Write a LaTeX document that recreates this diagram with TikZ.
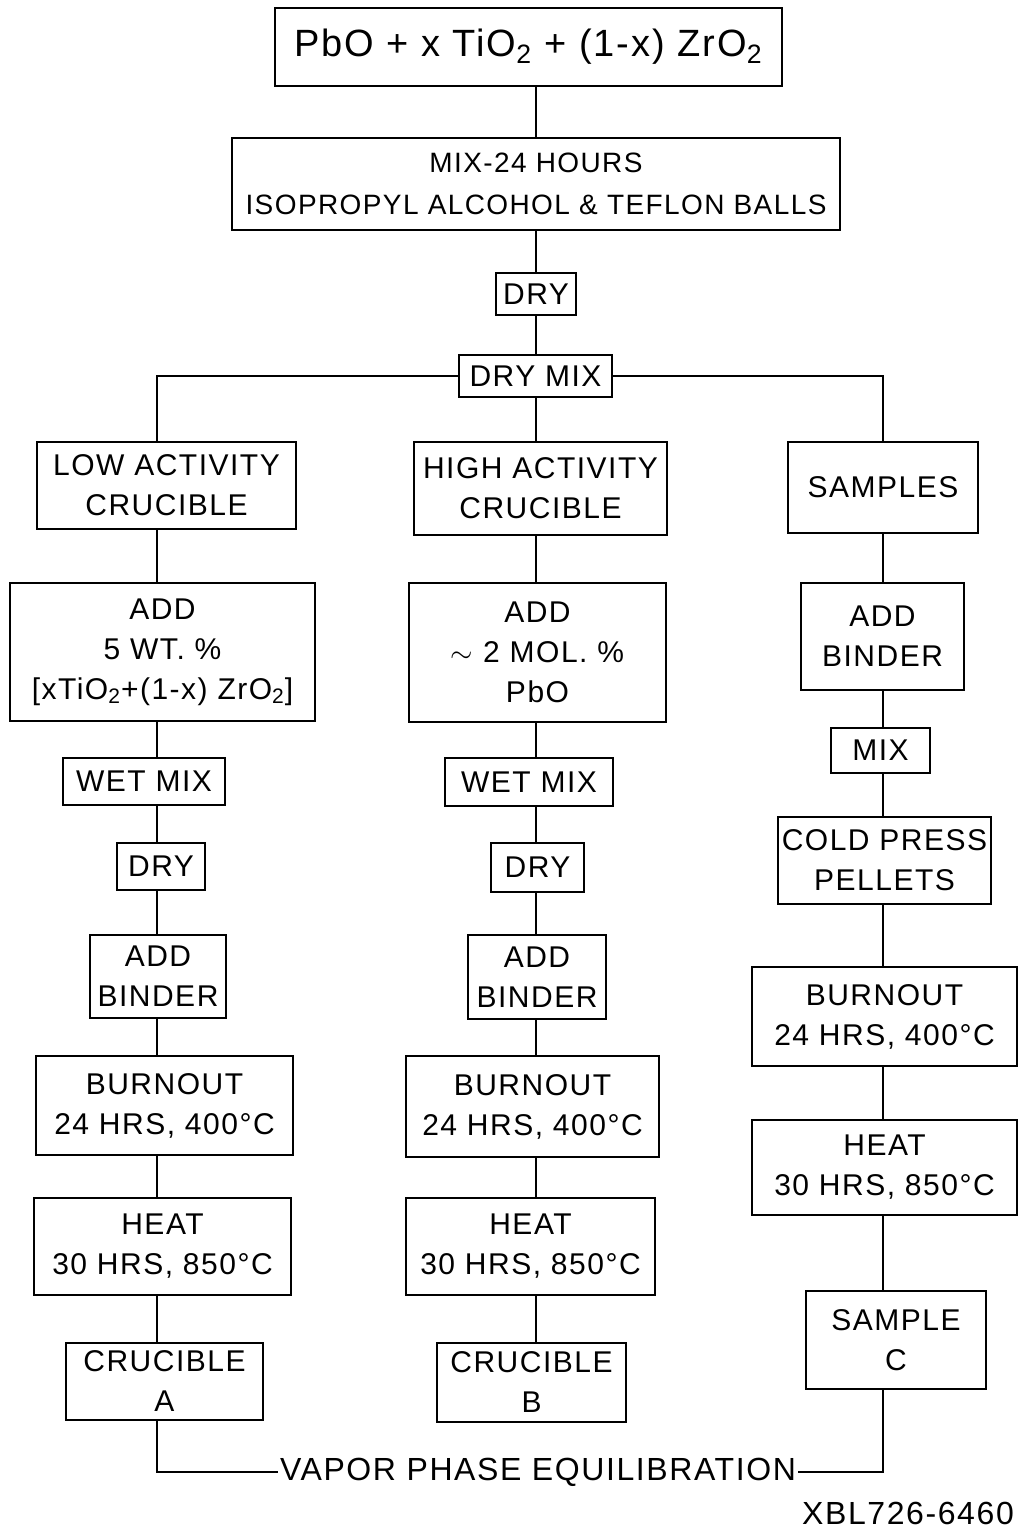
\documentclass[tikz,border=0pt]{standalone}
\usepackage{fontspec}
\setmainfont[LetterSpace=5]{Liberation Sans}
\usetikzlibrary{positioning}
\tikzset{
  box/.style={draw, line width=1.4pt, align=center, inner sep=1pt,
    font=\fontsize{15}{20}\selectfont},
  link/.style={line width=1.4pt},
}

\begin{document}
\begin{tikzpicture}[x=0.5pt, y=-0.5pt]
  \useasboundingbox (0,0) rectangle (1020,1535);
  \coordinate (colA) at (157,0);
  \coordinate (colB) at (536,0);
  \coordinate (colC) at (883,0);
  % Common start
  \node[box, font=\fontsize{19}{24}\selectfont, minimum width=253.5pt, minimum height=39pt] (start) at (528.5,47)
    {PbO + x TiO\textsubscript{2} + (1-x) ZrO\textsubscript{2}};
  \node[box, font=\fontsize{14}{21}\selectfont, minimum width=304pt, minimum height=46pt] (mix) at (536,184)
    {MIX-24 HOURS\\ISOPROPYL ALCOHOL \& TEFLON BALLS};
  \node[box, minimum width=40pt, minimum height=21pt] (dry) at (536,294) {DRY};
  \node[box, minimum width=76.5pt, minimum height=21pt] (dmix) at (535.5,376) {DRY MIX};
  % Low activity crucible (left)
  \node[box, minimum width=129.5pt, minimum height=43.5pt] (lowA) at (166.5,485.5) {LOW ACTIVITY\\CRUCIBLE};
  \node[box, minimum width=152.5pt, minimum height=69pt] (addA) at (162.5,652)
    {ADD\\5 WT. \%\\{[}xTiO\textsubscript{2}+(1-x) ZrO\textsubscript{2}{]}};
  \node[box, minimum width=81pt, minimum height=23.5pt] (wetA) at (144,781.5) {WET MIX};
  \node[box, minimum width=44pt, minimum height=23.5pt] (dryA) at (161,866.5) {DRY};
  \node[box, minimum width=68pt, minimum height=41.5pt] (bindA) at (158,976.5) {ADD\\BINDER};
  \node[box, minimum width=128.5pt, minimum height=49.5pt] (burnA) at (164.5,1105.5) {BURNOUT\\24 HRS, 400°C};
  \node[box, minimum width=128.5pt, minimum height=48.5pt] (heatA) at (162.5,1246.5) {HEAT\\30 HRS, 850°C};
  \node[box, minimum width=98.5pt, minimum height=38.5pt] (crucA) at (164.5,1381.5) {CRUCIBLE\\A};
  % High activity crucible (middle)
  \node[box, minimum width=126.5pt, minimum height=46.5pt] (highB) at (540.5,488.5) {HIGH ACTIVITY\\CRUCIBLE};
  \node[box, minimum width=128.5pt, minimum height=69.5pt] (addB) at (537.5,652.5)
    {ADD\\$\sim$ 2 MOL. \%\\PbO};
  \node[box, minimum width=84pt, minimum height=24pt] (wetB) at (529,782) {WET MIX};
  \node[box, minimum width=46.5pt, minimum height=24.5pt] (dryB) at (537.5,867.5) {DRY};
  \node[box, minimum width=69pt, minimum height=42pt] (bindB) at (537,977) {ADD\\BINDER};
  \node[box, minimum width=126.5pt, minimum height=50.5pt] (burnB) at (532.5,1106.5) {BURNOUT\\24 HRS, 400°C};
  \node[box, minimum width=124.5pt, minimum height=48.5pt] (heatB) at (530.5,1246.5) {HEAT\\30 HRS, 850°C};
  \node[box, minimum width=94.5pt, minimum height=39.5pt] (crucB) at (531.5,1382.5) {CRUCIBLE\\B};
  % Samples (right)
  \node[box, minimum width=95pt, minimum height=45.5pt] (sampC) at (883,487.5) {SAMPLES};
  \node[box, minimum width=81.5pt, minimum height=53.5pt] (addC) at (882.5,636.5) {ADD\\BINDER};
  \node[box, minimum width=49.5pt, minimum height=22.5pt] (mixC) at (880.5,750.5) {MIX};
  \node[box, minimum width=106.5pt, minimum height=43.5pt] (pressC) at (884.5,860.5) {COLD PRESS\\PELLETS};
  \node[box, minimum width=132.5pt, minimum height=49.5pt] (burnC) at (884.5,1016.5) {BURNOUT\\24 HRS, 400°C};
  \node[box, minimum width=132.5pt, minimum height=47.5pt] (heatC) at (884.5,1167.5) {HEAT\\30 HRS, 850°C};
  \node[box, minimum width=90pt, minimum height=49pt] (finC) at (896,1340) {SAMPLE\\C};
  % Bottom
  \node[font=\fontsize{16}{18}\selectfont, inner sep=1pt] (vapor) at (538,1472) {VAPOR PHASE EQUILIBRATION};
  \node[font=\fontsize{16}{20}\selectfont] (xbl) at (908,1513) {XBL726-6460};
  % Connectors
  \foreach \a/\b in {start/mix, mix/dry, dry/dmix, dmix/highB}
    \draw[link] (\a.south -| colB) -- (\b.north -| colB);
  \draw[link] (dmix.west) -| (lowA.north -| colA);
  \draw[link] (dmix.east) -| (sampC.north -| colC);
  \foreach \a/\b in {lowA/addA, addA/wetA, wetA/dryA, dryA/bindA, bindA/burnA, burnA/heatA, heatA/crucA}
    \draw[link] (\a.south -| colA) -- (\b.north -| colA);
  \foreach \a/\b in {highB/addB, addB/wetB, wetB/dryB, dryB/bindB, bindB/burnB, burnB/heatB, heatB/crucB}
    \draw[link] (\a.south -| colB) -- (\b.north -| colB);
  \foreach \a/\b in {sampC/addC, addC/mixC, mixC/pressC, pressC/burnC, burnC/heatC, heatC/finC}
    \draw[link] (\a.south -| colC) -- (\b.north -| colC);
  \draw[link] (crucA.south -| colA) |- (vapor.west);
  \draw[link] (finC.south -| colC) |- (vapor.east);
\end{tikzpicture}
\end{document}
